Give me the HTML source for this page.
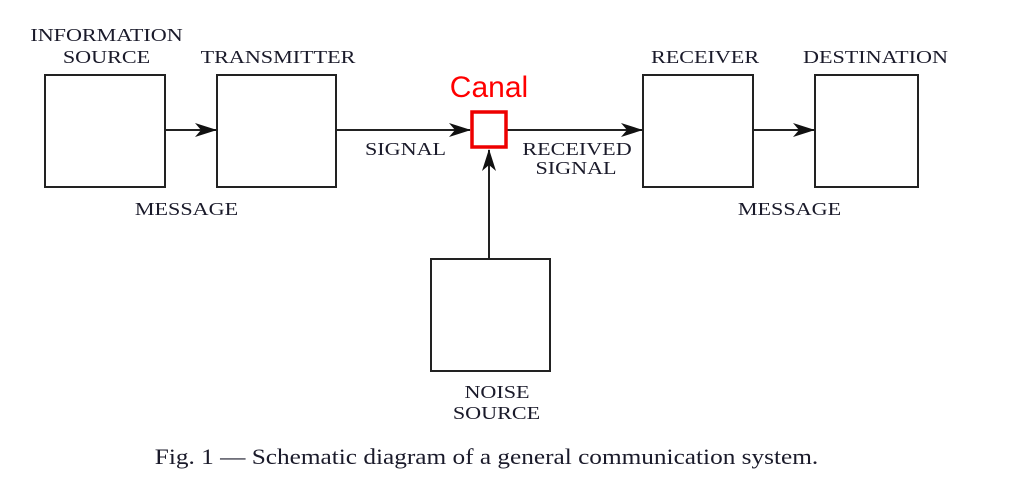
<!DOCTYPE html>
<html><head><meta charset="utf-8"><style>
body{margin:0;background:#fff;}
svg text{font-family:"Liberation Serif",serif;fill:#1a1a2a;}
</style></head><body>
<svg width="1009" height="495" viewBox="0 0 1009 495" xmlns="http://www.w3.org/2000/svg">
<defs><marker id="a" markerWidth="22" markerHeight="14" refX="21" refY="7" orient="auto" markerUnits="userSpaceOnUse"><path d="M0,0 L22,7 L0,14 L6,7 Z" fill="#111"/></marker></defs>
<g fill="none" stroke="#222" stroke-width="2">
<rect x="45" y="75" width="120" height="112"/>
<rect x="217" y="75" width="119" height="112"/>
<rect x="643" y="75" width="110" height="112"/>
<rect x="815" y="75" width="103" height="112"/>
<rect x="431" y="259" width="119" height="112"/>
<line x1="165" y1="130" x2="216" y2="130" marker-end="url(#a)"/>
<line x1="336" y1="130" x2="470" y2="130" marker-end="url(#a)"/>
<line x1="507" y1="130" x2="642" y2="130" marker-end="url(#a)"/>
<line x1="753" y1="130" x2="814" y2="130" marker-end="url(#a)"/>
<line x1="489" y1="259" x2="489" y2="150" marker-end="url(#a)"/>
</g>
<rect x="472" y="112" width="34" height="35" fill="#fff" stroke="#e00" stroke-width="3.5"/>
<text x="489" y="97" text-anchor="middle" style="font-family:'Liberation Sans',sans-serif;fill:#f00;font-size:30px">Canal</text>
<g font-size="18" text-anchor="middle">
<text transform="translate(106.5,41) scale(1.23,1)">INFORMATION</text>
<text transform="translate(106.5,63) scale(1.23,1)">SOURCE</text>
<text transform="translate(278,63) scale(1.23,1)">TRANSMITTER</text>
<text transform="translate(705,63) scale(1.23,1)">RECEIVER</text>
<text transform="translate(875.5,63) scale(1.23,1)">DESTINATION</text>
<text transform="translate(186.5,215) scale(1.23,1)">MESSAGE</text>
<text transform="translate(405.5,155) scale(1.23,1)">SIGNAL</text>
<text transform="translate(577,155) scale(1.23,1)">RECEIVED</text>
<text transform="translate(576,174) scale(1.23,1)">SIGNAL</text>
<text transform="translate(789.5,215) scale(1.23,1)">MESSAGE</text>
<text transform="translate(497,398) scale(1.23,1)">NOISE</text>
<text transform="translate(496.5,419) scale(1.23,1)">SOURCE</text>
</g>
<text transform="translate(486.5,464) scale(1.15,1)" font-size="22" text-anchor="middle">Fig. 1 — Schematic diagram of a general communication system.</text>
</svg>
</body></html>
